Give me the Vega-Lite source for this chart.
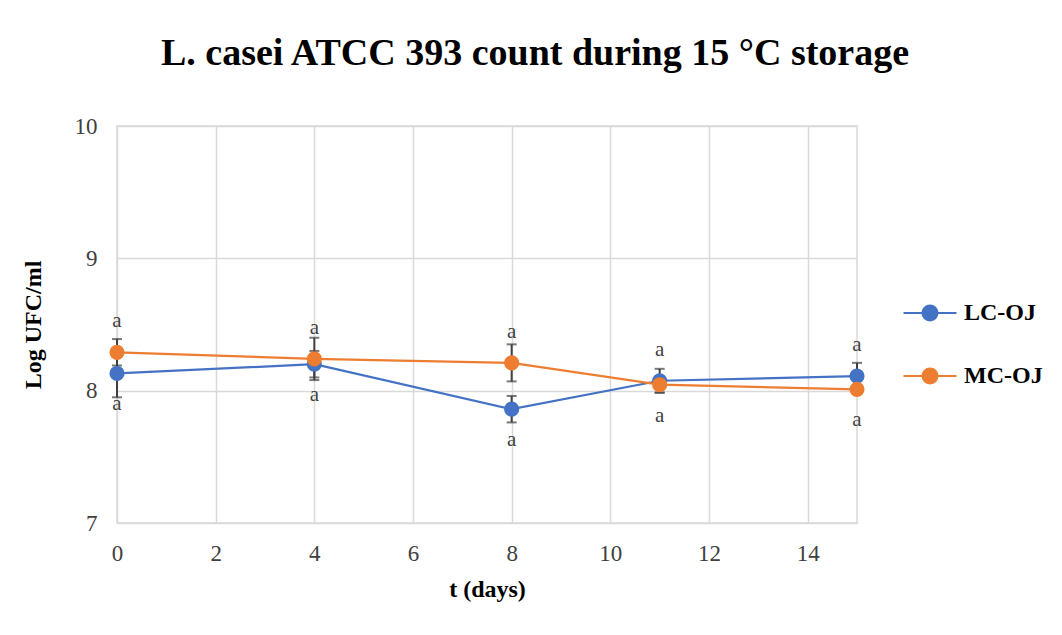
{
  "$schema": "https://vega.github.io/schema/vega-lite/v6.json",
  "autosize": {"type": "none"},
  "width": 740,
  "height": 397,
  "padding": {"left": 117, "top": 126, "right": 205, "bottom": 112},
  "background": "white",
  "title": {
    "text": "L. casei ATCC 393 count during 15 °C storage",
    "font": "Liberation Serif",
    "fontSize": 38,
    "fontWeight": "bold",
    "color": "#000000",
    "anchor": "middle",
    "frame": "group",
    "dx": 48,
    "dy": 36,
    "baseline": "bottom",
    "offset": 40
  },
  "data": {
    "values": [
      {"series": "LC-OJ", "t": 0, "mean": 8.13, "lo": 7.95, "hi": 8.31, "sig": "a"},
      {"series": "LC-OJ", "t": 4, "mean": 8.20, "lo": 8.10, "hi": 8.30, "sig": "a"},
      {"series": "LC-OJ", "t": 8, "mean": 7.86, "lo": 7.76, "hi": 7.96, "sig": "a"},
      {"series": "LC-OJ", "t": 11, "mean": 8.075, "lo": 7.985, "hi": 8.165, "sig": "a"},
      {"series": "LC-OJ", "t": 15, "mean": 8.11, "lo": 8.01, "hi": 8.21, "sig": "a"},
      {"series": "MC-OJ", "t": 0, "mean": 8.29, "lo": 8.19, "hi": 8.39, "sig": "a"},
      {"series": "MC-OJ", "t": 4, "mean": 8.24, "lo": 8.08, "hi": 8.40, "sig": "a"},
      {"series": "MC-OJ", "t": 8, "mean": 8.21, "lo": 8.07, "hi": 8.35, "sig": "a"},
      {"series": "MC-OJ", "t": 11, "mean": 8.045, "lo": 7.985, "hi": 8.105, "sig": "a"},
      {"series": "MC-OJ", "t": 15, "mean": 8.01, "lo": 7.98, "hi": 8.04, "sig": "a"}
    ]
  },
  "encoding": {
    "x": {
      "field": "t",
      "type": "quantitative",
      "title": "t (days)",
      "scale": {"domain": [0, 15], "nice": false, "zero": false},
      "axis": {
        "values": [0, 2, 4, 6, 8, 10, 12, 14],
        "labelPadding": 19,
        "labelFlush": false,
        "titlePadding": 12
      }
    }
  },
  "layer": [
    {
      "mark": {
        "type": "errorbar",
        "color": "#404040",
        "thickness": 2,
        "ticks": {"size": 10, "thickness": 2, "color": "#404040"}
      },
      "encoding": {
        "y": {
          "field": "lo",
          "type": "quantitative",
          "title": "Log UFC/ml",
          "scale": {"domain": [7, 10], "nice": false, "zero": false},
          "axis": {"values": [7, 8, 9, 10], "format": "d", "labelPadding": 20, "titlePadding": 29}
        },
        "y2": {"field": "hi"},
        "detail": {"field": "series"}
      }
    },
    {
      "mark": {
        "type": "line",
        "strokeWidth": 2.2,
        "point": {"size": 230, "filled": true, "opacity": 1}
      },
      "encoding": {
        "y": {"field": "mean", "type": "quantitative"},
        "color": {
          "field": "series",
          "type": "nominal",
          "scale": {"domain": ["LC-OJ", "MC-OJ"], "range": ["#4472C4", "#ED7D31"]},
          "legend": {
            "title": null,
            "orient": "none",
            "legendX": 785,
            "legendY": 159,
            "padding": 0,
            "rowPadding": 23,
            "symbolType": "M-1,0L1,0M-0.28,0A0.28,0.28 0 1,1 0.28,0A0.28,0.28 0 1,1 -0.28,0Z",
            "symbolSize": 2809,
            "symbolStrokeWidth": 2.2,
            "labelFont": "Liberation Serif",
            "labelFontSize": 24,
            "labelFontWeight": "bold",
            "labelColor": "#000000",
            "labelOffset": 6,
            "encode": {
              "symbols": {
                "update": {
                  "fill": {"scale": "color", "field": "value"},
                  "stroke": {"scale": "color", "field": "value"},
                  "opacity": {"value": 1}
                }
              }
            }
          }
        }
      }
    },
    {
      "transform": [
        {"aggregate": [{"op": "argmax", "field": "mean", "as": "top"}], "groupby": ["t"]}
      ],
      "mark": {"type": "text", "dy": -31, "font": "Liberation Serif", "fontSize": 21, "color": "#404040"},
      "encoding": {
        "y": {"field": "top.mean", "type": "quantitative"},
        "text": {"field": "top.sig"}
      }
    },
    {
      "transform": [
        {"aggregate": [{"op": "argmin", "field": "mean", "as": "bot"}], "groupby": ["t"]}
      ],
      "mark": {"type": "text", "dy": 31, "font": "Liberation Serif", "fontSize": 21, "color": "#404040"},
      "encoding": {
        "y": {"field": "bot.mean", "type": "quantitative"},
        "text": {"field": "bot.sig"}
      }
    }
  ],
  "config": {
    "view": {"stroke": "#D9D9D9", "strokeWidth": 1.5},
    "axis": {
      "grid": true,
      "gridColor": "#D9D9D9",
      "gridWidth": 1.5,
      "domain": false,
      "ticks": false,
      "labelFont": "Liberation Serif",
      "labelFontSize": 23,
      "labelColor": "#404040",
      "titleFont": "Liberation Serif",
      "titleFontSize": 24,
      "titleFontWeight": "bold",
      "titleColor": "#000000"
    }
  }
}
